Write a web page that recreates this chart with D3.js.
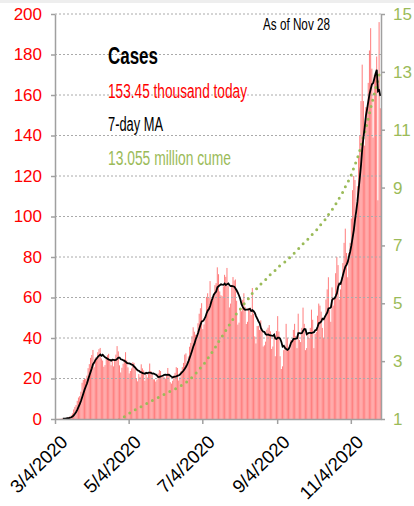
<!DOCTYPE html>
<html>
<head>
<meta charset="utf-8">
<script src="https://cdn.jsdelivr.net/npm/d3@7"></script>
<style>
  body { margin: 0; background: #fff; }
  svg { display: block; font-family: "Liberation Sans Narrow", "Arial Narrow", sans-serif; }
</style>
</head>
<body>
<svg id="chart" width="414" height="506"></svg>
<script>
// daily new cases, thousands, one value per day from 3/4/2020 to 11/28/2020
const startDate = new Date(2020, 2, 4);
const endDate = new Date(2020, 10, 29);

const casesMar = [0.03, 0.07, 0.06, 0.1, 0.11, 0.17, 0.29, 0.27, 0.44, 0.6, 0.7, 0.8, 1.3, 1.8, 2.8, 4.7, 6.0, 6.9, 9.0, 10.6, 11.3, 13.5, 17.9, 19.3, 20.0, 19.8, 21.4, 25.1];
const casesApr = [27.1, 30.2, 31.6, 34.1, 25.6, 30.4, 30.0, 33.0, 34.5, 35.1, 29.9, 28.9, 25.8, 26.6, 30.4, 31.5, 32.2, 29.0, 26.5, 28.9, 26.0, 29.7, 31.8, 36.0, 33.4, 26.5, 23.0, 25.3, 27.3, 29.5];
const casesMay = [33.0, 29.0, 25.5, 22.5, 23.7, 25.0, 28.0, 27.7, 25.0, 20.2, 18.6, 22.2, 20.8, 27.0, 25.0, 24.0, 18.9, 22.0, 20.5, 22.7, 27.4, 23.7, 21.9, 19.6, 19.6, 18.5, 19.4, 22.5, 24.2, 23.7, 20.7];
const casesJun = [21.4, 20.6, 20.0, 21.9, 25.2, 22.5, 18.2, 17.5, 18.9, 21.5, 22.8, 25.6, 25.2, 19.0, 20.6, 23.7, 25.6, 27.7, 31.8, 32.4, 26.8, 30.9, 35.7, 37.6, 40.9, 45.3, 43.1, 41.6, 41.5, 47.3];
const casesJul = [52.0, 54.7, 57.2, 44.4, 46.7, 49.4, 60.3, 62.1, 59.8, 68.1, 59.3, 58.3, 61.8, 66.1, 67.1, 74.9, 71.5, 63.0, 61.1, 60.6, 65.5, 71.2, 70.2, 74.6, 65.6, 55.1, 57.0, 66.2, 70.1, 68.4, 68.9];
const casesAug = [58.4, 46.6, 47.6, 54.1, 53.2, 58.8, 62.1, 55.4, 46.9, 48.0, 54.8, 55.0, 51.3, 64.7, 52.0, 40.8, 37.3, 45.9, 46.0, 44.0, 48.7, 44.0, 35.8, 36.4, 38.2, 44.1, 45.1, 46.4, 43.3, 34.6, 35.8];
const casesSep = [42, 31, 43.5, 50.8, 43.2, 31, 24.7, 26, 34, 36, 47, 40, 34, 34, 39, 39, 44, 47, 41, 35, 52, 39, 38, 45, 55, 47, 34, 35, 42, 40];
const casesOct = [45, 54, 49, 35, 42, 43, 51, 57, 56, 53, 45, 40, 51, 59, 64, 70, 54, 48, 65, 56, 60, 72, 80, 76, 59, 64, 70, 77, 87, 94, 82];
const casesNov = [70, 82, 87, 99, 113, 120, 118, 100, 115, 130, 140, 157, 175, 157, 135, 154, 154, 166, 182, 193, 173, 139, 170, 171, 179, 108, 196, 153.45];

const leftTicks = [0, 20, 40, 60, 80, 100, 120, 140, 160, 180, 200];
const rightTicks = [1, 3, 5, 7, 9, 11, 13, 15];
const dateTicks = [new Date(2020, 2, 4), new Date(2020, 4, 4), new Date(2020, 6, 4), new Date(2020, 8, 4), new Date(2020, 10, 4)];
const dateLabels = ["3/4/2020", "5/4/2020", "7/4/2020", "9/4/2020", "11/4/2020"];

const daily = [].concat(casesMar, casesApr, casesMay, casesJun, casesJul, casesAug, casesSep, casesOct, casesNov);
const data = daily.map((v, i) => ({ date: d3.timeDay.offset(startDate, i), value: v }));

// 7-day moving average and running total (millions)
data.forEach((d, i) => {
  d.ma = i >= 6 ? d3.mean(daily.slice(i - 6, i + 1)) : null;
});
const cume = d3.cumsum(daily);
data.forEach((d, i) => { d.cume = cume[i] / 1000; });

const red = "#ff0000";
const green = "#9bbb59";
const axisGrey = "#a0a0a0";

const svg = d3.select("#chart");
svg.append("rect").attr("width", 414).attr("height", 3).attr("fill", "#eeeeee");

const x = d3.scaleTime().domain([startDate, endDate]).range([55, 381]);
const y = d3.scaleLinear().domain([0, 200]).range([419, 14]);
const y2 = d3.scaleLinear().domain([1, 15]).range([419, 14]);
const step = x(d3.timeDay.offset(startDate, 1)) - x(startDate);

svg.append("defs").append("clipPath").attr("id", "plot")
  .append("rect").attr("x", 55).attr("y", 10).attr("width", 330).attr("height", 409);

// bars
svg.append("g")
  .selectAll("rect")
  .data(data)
  .enter()
  .append("rect")
  .attr("x", d => x(d.date))
  .attr("y", d => y(d.value))
  .attr("width", step * 0.85)
  .attr("height", d => y(0) - y(d.value))
  .attr("fill", "#ff8080");

// gridlines
svg.append("g")
  .selectAll("line")
  .data(leftTicks.slice(1))
  .enter()
  .append("line")
  .attr("x1", 55).attr("x2", 381)
  .attr("y1", d => y(d)).attr("y2", d => y(d))
  .attr("stroke", "#aaaaaa")
  .attr("stroke-width", 1)
  .attr("stroke-dasharray", "2,2");

// cumulative dotted line
svg.append("path")
  .datum(data)
  .attr("clip-path", "url(#plot)")
  .attr("fill", "none")
  .attr("stroke", green)
  .attr("stroke-width", 3)
  .attr("stroke-linecap", "round")
  .attr("stroke-dasharray", "0,6.5")
  .attr("d", d3.line().x(d => x(d.date) + step / 2).y(d => y2(d.cume)));

// moving average
svg.append("path")
  .datum(data.filter(d => d.ma !== null))
  .attr("fill", "none")
  .attr("stroke", "#000")
  .attr("stroke-width", 1.8)
  .attr("d", d3.line().x(d => x(d.date) + step / 2).y(d => y(d.ma)));

// axes
const leftAxis = svg.append("g")
  .attr("transform", "translate(55,0)")
  .call(d3.axisLeft(y).tickValues(leftTicks).tickSize(4).tickSizeOuter(0).tickPadding(9));
leftAxis.selectAll("text").attr("fill", red).style("font-size", "17px");

const rightAxis = svg.append("g")
  .attr("transform", "translate(381,0)")
  .call(d3.axisRight(y2).tickValues(rightTicks).tickSize(4).tickSizeOuter(0).tickPadding(8));
rightAxis.selectAll("text").attr("fill", green).style("font-size", "17px");

const bottomAxis = svg.append("g")
  .attr("transform", "translate(0,419)")
  .call(d3.axisBottom(x).tickValues(dateTicks).tickFormat((d, i) => dateLabels[i]).tickSize(5).tickSizeOuter(0));
bottomAxis.selectAll("text")
  .attr("fill", "#000")
  .style("font-size", "18.5px")
  .attr("text-anchor", "end")
  .attr("transform", "translate(3,14) rotate(-45)")
  .attr("dy", "0.35em");

[leftAxis, rightAxis, bottomAxis].forEach(a => {
  a.select(".domain").attr("stroke", axisGrey).attr("stroke-width", 1.5);
  a.selectAll(".tick line").attr("stroke", axisGrey).attr("stroke-width", 1.5);
});

// legend text
svg.append("text").attr("x", 108).attr("y", 64)
  .attr("font-weight", "bold").attr("font-size", 23).attr("textLength", 50).attr("lengthAdjust", "spacingAndGlyphs")
  .text("Cases");
svg.append("text").attr("x", 108).attr("y", 98).attr("fill", red)
  .attr("font-size", 20).attr("textLength", 139).attr("lengthAdjust", "spacingAndGlyphs")
  .text("153.45 thousand today");
svg.append("text").attr("x", 108).attr("y", 131).attr("fill", "#000")
  .attr("font-size", 20).attr("textLength", 55).attr("lengthAdjust", "spacingAndGlyphs")
  .text("7-day MA");
svg.append("text").attr("x", 108).attr("y", 165).attr("fill", green)
  .attr("font-size", 20).attr("textLength", 123).attr("lengthAdjust", "spacingAndGlyphs")
  .text("13.055 million cume");
svg.append("text").attr("x", 263).attr("y", 30).attr("fill", "#000")
  .attr("font-size", 17).attr("textLength", 67).attr("lengthAdjust", "spacingAndGlyphs")
  .text("As of Nov 28");
</script>
</body>
</html>
